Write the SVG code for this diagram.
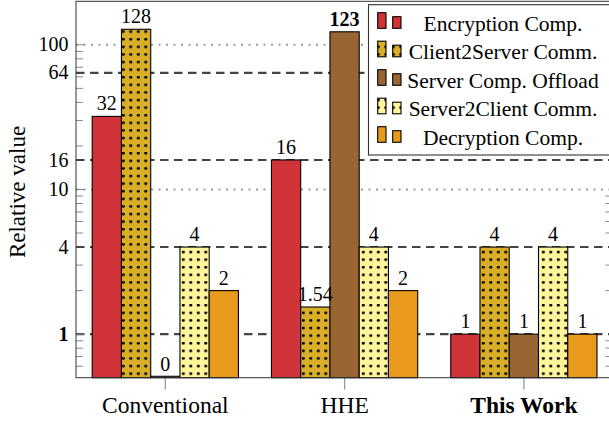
<svg xmlns="http://www.w3.org/2000/svg" width="609" height="421" viewBox="0 0 609 421">
<style>
.bar{stroke:#000;stroke-width:1.1}
.red{fill:#D03438}
.gold{fill:url(#dotsG)}
.brown{fill:#996633}
.ly{fill:url(#dotsY)}
.orange{fill:#E89A1D}
text{font-family:'Liberation Serif','DejaVu Serif','Times New Roman',serif;fill:#000}
.num{font-size:20px;text-anchor:middle}
.tick{font-size:20px;text-anchor:end}
.xl{font-size:23.5px;text-anchor:middle}
.leg{font-size:21.5px;text-anchor:middle}
.dash{stroke:#444;stroke-width:2.1;stroke-dasharray:8.5 5.5;fill:none}
.dot{stroke:#999;stroke-width:2;stroke-dasharray:2 5.5;fill:none}
.minor{stroke:#888;stroke-width:1;fill:none}
</style>
<defs>
<pattern id="dotsG" patternUnits="userSpaceOnUse" width="7.5" height="7.6">
<rect width="7.5" height="7.6" fill="#D9AE29"/>
<circle cx="3.3" cy="1.2" r="1.5" fill="#000"/>
</pattern>
<pattern id="dotsY" patternUnits="userSpaceOnUse" width="7.5" height="7.6">
<rect width="7.5" height="7.6" fill="#FFF59B"/>
<circle cx="3.3" cy="1.2" r="1.5" fill="#000"/>
</pattern>
</defs>
<rect width="609" height="421" fill="#fff"/>

<g id="grid">
<line class="dot" x1="76" y1="44.8" x2="612" y2="44.8"/>
<line class="dot" x1="76" y1="189.5" x2="612" y2="189.5"/>
<line class="dash" x1="76" y1="72.85" x2="612" y2="72.85"/>
<line class="dash" x1="76" y1="159.95" x2="612" y2="159.95"/>
<line class="dash" x1="76" y1="247.05" x2="612" y2="247.05"/>
<line class="dash" x1="76" y1="334.15" x2="612" y2="334.15"/>
</g>

<g id="ticks" class="minor">
<path d="M76 366.25h7M76 356.56h7M76 348.17h7M76 340.77h7M76 334.15h8M76 290.6h7M76 265.12h7M76 233.03h7M76 221.57h7M76 211.89h7M76 203.5h7M76 196.1h7M76 189.5h8M76 145.93h7M76 120.46h7M76 102.38h7M76 88.36h7M76 76.9h7M76 67.22h7M76 58.83h7M76 51.43h7M76 44.8h8"/>
<path d="M612.5 366.25h-7M612.5 356.56h-7M612.5 348.17h-7M612.5 340.77h-7M612.5 290.6h-7M612.5 265.12h-7M612.5 233.03h-7M612.5 221.57h-7M612.5 211.89h-7M612.5 203.5h-7M612.5 196.1h-7M612.5 145.93h-7M612.5 120.46h-7M612.5 102.38h-7M612.5 88.36h-7M612.5 76.9h-7M612.5 67.22h-7M612.5 58.83h-7M612.5 51.43h-7"/>
<path d="M165.3 378v11.5M344.6 378v11.5M523.9 378v11.5" stroke="#999" stroke-width="1.3"/>
</g>

<g id="conventional">
<rect class="bar red" x="92.2" y="116.4" width="29.25" height="261.3"/>
<rect class="bar gold" x="121.45" y="29.3" width="29.25" height="348.4"/>
<rect class="bar" fill="#fff" x="150.7" y="376.3" width="29.25" height="1.4"/>
<rect class="bar ly" x="179.95" y="247.05" width="29.25" height="130.65"/>
<rect class="bar orange" x="209.2" y="290.6" width="29.25" height="87.1"/>
<text class="num" x="106.8" y="110.4">32</text>
<text class="num" x="136.05" y="23.3">128</text>
<text class="num" x="165.3" y="370.5">0</text>
<text class="num" x="194.55" y="241">4</text>
<text class="num" x="223.8" y="284.6">2</text>
</g>

<g id="hhe">
<rect class="bar red" x="271.45" y="159.95" width="29.25" height="217.75"/>
<rect class="bar gold" x="300.7" y="307" width="29.25" height="70.7"/>
<rect class="bar brown" x="329.95" y="31.8" width="29.25" height="345.9"/>
<rect class="bar ly" x="359.2" y="247.05" width="29.25" height="130.65"/>
<rect class="bar orange" x="388.45" y="290.6" width="29.25" height="87.1"/>
<text class="num" x="286.1" y="154">16</text>
<text class="num" x="315.35" y="301">1.54</text>
<text class="num" x="344.6" y="25.5" font-weight="bold">123</text>
<text class="num" x="373.85" y="241">4</text>
<text class="num" x="403.1" y="284.6">2</text>
</g>

<g id="thiswork">
<rect class="bar red" x="450.75" y="334.15" width="29.25" height="43.55"/>
<rect class="bar gold" x="480" y="247.05" width="29.25" height="130.65"/>
<rect class="bar brown" x="509.25" y="334.15" width="29.25" height="43.55"/>
<rect class="bar ly" x="538.5" y="247.05" width="29.25" height="130.65"/>
<rect class="bar orange" x="567.75" y="334.15" width="29.25" height="43.55"/>
<text class="num" x="465.4" y="328.2">1</text>
<text class="num" x="494.6" y="241">4</text>
<text class="num" x="523.9" y="328.2">1</text>
<text class="num" x="553.1" y="241">4</text>
<text class="num" x="582.4" y="328.2">1</text>
</g>

<g id="axis">
<rect x="76" y="1.3" width="536.5" height="376.4" fill="none" stroke="#333" stroke-width="1"/>
<text class="tick" x="68.5" y="51.3">100</text>
<text class="tick" x="68.5" y="79.3">64</text>
<text class="tick" x="68.5" y="166.5">16</text>
<text class="tick" x="68.5" y="196">10</text>
<text class="tick" x="68.5" y="253.5">4</text>
<text class="tick" x="68.5" y="340.6" font-weight="bold">1</text>
<text class="xl" x="165.3" y="412.5">Conventional</text>
<text class="xl" x="344.6" y="412.5">HHE</text>
<text class="xl" x="523.9" y="412.5" font-weight="bold">This Work</text>
<text class="xl" transform="translate(25,192) rotate(-90)" style="font-size:23px">Relative value</text>
</g>

<g id="legend">
<rect x="368.5" y="4.7" width="245" height="150.3" fill="#fff" stroke="#333" stroke-width="1.1"/>
<rect class="bar red" x="377.7" y="12.7" width="8.3" height="15.6"/>
<rect class="bar red" x="392.7" y="16.7" width="8.3" height="11.6"/>
<text class="leg" x="503" y="30.7">Encryption Comp.</text>
<rect class="bar gold" x="377.7" y="41.2" width="8.3" height="15.6"/>
<rect class="bar gold" x="392.7" y="45.2" width="8.3" height="11.6"/>
<text class="leg" x="503" y="59.2">Client2Server Comm.</text>
<rect class="bar brown" x="377.7" y="69.7" width="8.3" height="15.6"/>
<rect class="bar brown" x="392.7" y="73.7" width="8.3" height="11.6"/>
<text class="leg" x="503" y="87.7">Server Comp. Offload</text>
<rect class="bar ly" x="377.7" y="98.2" width="8.3" height="15.6"/>
<rect class="bar ly" x="392.7" y="102.2" width="8.3" height="11.6"/>
<text class="leg" x="503" y="116.2">Server2Client Comm.</text>
<rect class="bar orange" x="377.7" y="126.7" width="8.3" height="15.6"/>
<rect class="bar orange" x="392.7" y="130.7" width="8.3" height="11.6"/>
<text class="leg" x="503" y="144.7">Decryption Comp.</text>
</g>
</svg>
